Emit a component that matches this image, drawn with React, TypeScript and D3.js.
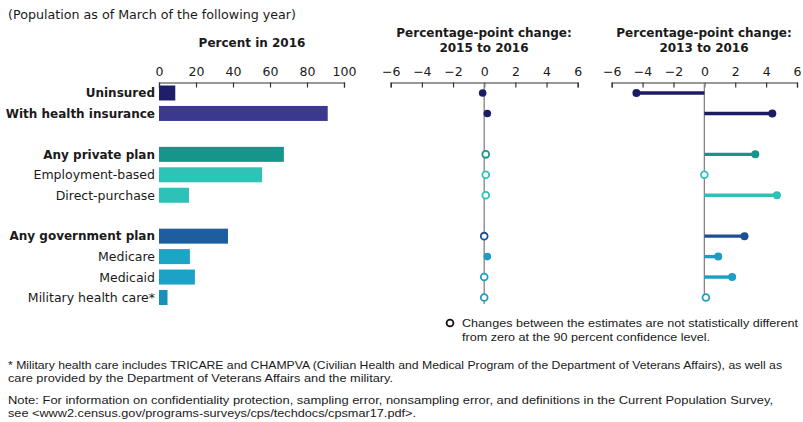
import React, { useEffect, useRef } from "react";
import * as d3 from "d3";

const WIDTH = 803;
const HEIGHT = 422;

// rows, grouped (an empty slot goes between groups)
const groups = [
  ["Uninsured", "With health insurance"],
  ["Any private plan", "Employment-based", "Direct-purchase"],
  ["Any government plan", "Medicare", "Medicaid", "Military health care*"],
];
const boldRows = ["Uninsured", "With health insurance", "Any private plan", "Any government plan"];

const categories = groups.flat();
const percent2016 = [8.8, 91.2, 67.5, 55.7, 16.2, 37.3, 16.7, 19.4, 4.6];
const change1516 = [-0.1, 0.2, 0.1, 0.1, 0.1, 0, 0.2, 0, 0];
const sig1516 = [true, true, false, false, false, false, true, false, false];
const change1316 = [-4.4, 4.4, 3.3, 0, 4.7, 2.6, 0.9, 1.8, 0.1];
const sig1316 = [true, true, true, false, true, true, true, true, false];
const barColors = ["#1f1e6b", "#3a398f", "#16968b", "#2dc3b7", "#2dc1b8", "#1e5e9e", "#1ca5c4", "#1ca2c6", "#1a8fba"];
const dotColors = ["#1b1b66", "#1b1b66", "#16968b", "#2dc3b7", "#2dc1b8", "#1e4f96", "#1c9cc4", "#1c9ec6", "#1c9ec6"];

const pctTicks = [0, 20, 40, 60, 80, 100];
const changeTicks = [-6, -4, -2, 0, 2, 4, 6];

const footnotes = [
  "* Military health care includes TRICARE and CHAMPVA (Civilian Health and Medical Program of the Department of Veterans Affairs), as well as",
  "care provided by the Department of Veterans Affairs and the military.",
  "Note: For information on confidentiality protection, sampling error, nonsampling error, and definitions in the Current Population Survey,",
  "see <www2.census.gov/programs-surveys/cps/techdocs/cpsmar17.pdf>.",
];
const legendLines = [
  "Changes between the estimates are not statistically different",
  "from zero at the 90 percent confidence level.",
];

const App = () => {
  const ref = useRef<SVGSVGElement>(null);

  useEffect(() => {
    const svg = d3.select(ref.current);
    svg.selectAll("*").remove();

    const sans = "'DejaVu Sans', Verdana, sans-serif";
    const small = "'Liberation Sans', Arial, sans-serif";
    const ink = "#1a1a1a";

    // slots: rows plus a gap between groups
    const slots: string[] = [];
    groups.forEach((g, i) => {
      if (i > 0) slots.push(`gap${i}`);
      slots.push(...g);
    });
    const y = d3.scalePoint<string>().domain(slots).range([93, 297.5]);

    const xPct = d3.scaleLinear().domain([0, 100]).range([159, 344]);
    const xMid = d3.scaleLinear().domain([-6, 6]).range([390.7, 577.7]);
    const xRight = d3.scaleLinear().domain([-6, 6]).range([611.7, 797]);
    const axisY = 82.5;

    const rows = categories.map((c, i) => ({
      name: c,
      pct: percent2016[i],
      c1: change1516[i],
      s1: sig1516[i],
      c2: change1316[i],
      s2: sig1316[i],
      bar: barColors[i],
      dot: dotColors[i],
    }));

    // subtitle
    svg.append("text")
      .attr("x", 8).attr("y", 19)
      .attr("textLength", 288).attr("lengthAdjust", "spacingAndGlyphs")
      .style("font-family", sans).style("font-size", 12.5).attr("fill", ink)
      .text("(Population as of March of the following year)");

    // panel titles
    const title = (x: number, yy: number, t: string) =>
      svg.append("text")
        .attr("x", x).attr("y", yy)
        .attr("text-anchor", "middle")
        .style("font-family", sans).style("font-size", 12).style("font-weight", "bold")
        .attr("fill", ink).text(t);
    title(252, 47, "Percent in 2016");
    title(484, 37, "Percentage-point change:");
    title(484, 52, "2015 to 2016");
    title(704, 37, "Percentage-point change:");
    title(704, 52, "2013 to 2016");

    // axes
    const drawAxis = (scale: d3.ScaleLinear<number, number>, ticks: number[]) => {
      const g = svg.append("g")
        .attr("transform", `translate(0,${axisY})`)
        .call(d3.axisTop(scale).tickValues(ticks).tickSize(-5).tickPadding(7));
      g.select(".domain").attr("stroke", "#333").attr("stroke-width", 1.2);
      g.selectAll(".tick line").attr("stroke", "#333").attr("stroke-width", 1.2);
      g.selectAll(".tick text")
        .style("font-family", sans).style("font-size", 12.5).attr("fill", ink);
    };
    drawAxis(xPct, pctTicks);
    drawAxis(xMid, changeTicks);
    drawAxis(xRight, changeTicks);

    // row labels
    svg.append("g").selectAll("text")
      .data(rows).enter().append("text")
      .attr("x", 155)
      .attr("y", (d) => y(d.name)!)
      .attr("dy", "0.36em")
      .attr("text-anchor", "end")
      .style("font-family", sans)
      .style("font-size", (d) => (boldRows.includes(d.name) ? 12 : 12.5))
      .style("font-weight", (d) => (boldRows.includes(d.name) ? "bold" : "normal"))
      .attr("fill", ink)
      .text((d) => d.name);

    // bars
    const barH = 15;
    svg.append("g").selectAll("rect")
      .data(rows).enter().append("rect")
      .attr("x", xPct(0))
      .attr("y", (d) => y(d.name)! - barH / 2)
      .attr("width", (d) => xPct(d.pct) - xPct(0))
      .attr("height", barH)
      .attr("fill", (d) => d.bar);

    // zero lines
    svg.append("line")
      .attr("x1", xMid(0)).attr("x2", xMid(0))
      .attr("y1", axisY).attr("y2", 304)
      .attr("stroke", "#8c8080").attr("stroke-width", 1.3);
    svg.append("line")
      .attr("x1", xRight(0)).attr("x2", xRight(0))
      .attr("y1", axisY).attr("y2", 300)
      .attr("stroke", "#8c8080").attr("stroke-width", 1.3);

    // 2015 to 2016 dots
    svg.append("g").selectAll("circle")
      .data(rows).enter().append("circle")
      .attr("cx", (d) => xMid(d.c1))
      .attr("cy", (d) => y(d.name)!)
      .attr("r", (d) => (d.s1 ? 3.8 : 3.4))
      .attr("fill", (d) => (d.s1 ? d.dot : "#fff"))
      .attr("stroke", (d) => d.dot)
      .attr("stroke-width", (d) => (d.s1 ? 0 : 1.8));

    // 2013 to 2016 lollipops
    const lolli = svg.append("g");
    lolli.selectAll("line")
      .data(rows.filter((d) => d.s2)).enter().append("line")
      .attr("x1", xRight(0))
      .attr("x2", (d) => xRight(d.c2))
      .attr("y1", (d) => y(d.name)!)
      .attr("y2", (d) => y(d.name)!)
      .attr("stroke", (d) => d.dot)
      .attr("stroke-width", 3.4);
    lolli.selectAll("circle")
      .data(rows).enter().append("circle")
      .attr("cx", (d) => xRight(d.c2))
      .attr("cy", (d) => y(d.name)!)
      .attr("r", (d) => (d.s2 ? 4 : 3.4))
      .attr("fill", (d) => (d.s2 ? d.dot : "#fff"))
      .attr("stroke", (d) => d.dot)
      .attr("stroke-width", (d) => (d.s2 ? 0 : 1.8));

    // legend
    svg.append("circle")
      .attr("cx", 450).attr("cy", 323).attr("r", 3.4)
      .attr("fill", "#fff").attr("stroke", "#111").attr("stroke-width", 1.8);
    const legendLengths = [336, 248];
    svg.append("g").selectAll("text")
      .data(legendLines).enter().append("text")
      .attr("x", 462)
      .attr("y", (_, i) => 327 + i * 13.5)
      .attr("textLength", (_, i) => legendLengths[i])
      .attr("lengthAdjust", "spacingAndGlyphs")
      .style("font-family", small).style("font-size", 11).attr("fill", ink)
      .text((d) => d);

    // footnotes
    const footY = [369, 382, 404, 417];
    const footLen = [774, 385, 765, 408];
    svg.append("g").selectAll("text")
      .data(footnotes).enter().append("text")
      .attr("x", 8)
      .attr("y", (_, i) => footY[i])
      .attr("textLength", (_, i) => footLen[i])
      .attr("lengthAdjust", "spacingAndGlyphs")
      .style("font-family", small).style("font-size", 11).attr("fill", ink)
      .text((d) => d);
  }, []);

  return (
    <svg
      ref={ref}
      width={WIDTH}
      height={HEIGHT}
      style={{ position: "absolute", left: 0, top: 0, background: "#fff" }}
    ></svg>
  );
};

export default App;
